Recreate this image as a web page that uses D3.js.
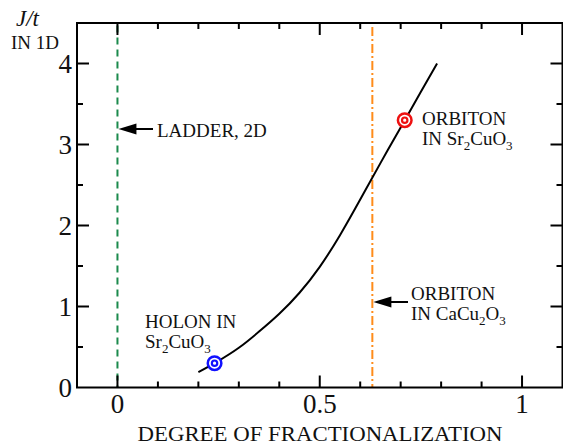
<!DOCTYPE html>
<html><head><meta charset="utf-8">
<script src="https://cdn.jsdelivr.net/npm/d3@7"></script>
<style>
html,body{margin:0;padding:0;background:#fff;}
</style></head>
<body><svg id="c" width="563" height="445"></svg>
<script>
// ---- data ----
const curveX = [0.20, 0.25, 0.30, 0.35, 0.40, 0.45, 0.50, 0.55, 0.60, 0.65, 0.70, 0.75, 0.79];
const curveY = [0.19, 0.33, 0.49, 0.69, 0.91, 1.17, 1.49, 1.88, 2.32, 2.77, 3.21, 3.65, 4.00];
const xTicks = [0, 0.5, 1];
const xTickLabels = ["0", "0.5", "1"];
const yTicks = [0, 1, 2, 3, 4];
const yTickLabels = ["0", "1", "2", "3", "4"];
const ladderX = 0;          // LADDER, 2D
const caCuX = 0.63;         // ORBITON IN CaCu2O3
const holon = {x: 0.24, y: 0.30};
const orbiton = {x: 0.71, y: 3.30};

const FONT = "'Liberation Serif', Tinos, 'Times New Roman', Times, 'Nimbus Roman', 'Nimbus Roman No9 L', FreeSerif, 'Noto Serif', 'DejaVu Serif', serif";

// ---- layout ----
const svg = d3.select("#c");
const L = 77, T = 23, R = 562.5, B = 387.5;
const x = d3.scaleLinear().domain([-0.1, 1.1]).range([L, R]);
const y = d3.scaleLinear().domain([0, 4.5]).range([B, T]);

function txt(xx, yy, size) {
  return svg.append("text").attr("x", xx).attr("y", yy)
    .style("font-family", FONT).attr("font-size", size).attr("fill", "#111");
}

// vertical reference lines
svg.append("line").attr("x1", x(ladderX)).attr("x2", x(ladderX))
  .attr("y1", y(4.47)).attr("y2", B)
  .attr("stroke", "#1b8a4c").attr("stroke-width", 2).attr("stroke-dasharray", "7,5");
svg.append("line").attr("x1", x(caCuX)).attr("x2", x(caCuX))
  .attr("y1", y(4.45)).attr("y2", B)
  .attr("stroke", "#ff8c1a").attr("stroke-width", 2).attr("stroke-dasharray", "9,3,2,3");

// curve
const line = d3.line().x(d => x(d[0])).y(d => y(d[1])).curve(d3.curveNatural);
svg.append("path").datum(curveX.map((v, i) => [v, curveY[i]]))
  .attr("d", line).attr("fill", "none").attr("stroke", "#000").attr("stroke-width", 2);

// markers
function target(p, col) {
  const g = svg.append("g").attr("transform", `translate(${x(p.x)},${y(p.y)})`);
  g.append("circle").attr("r", 6.8).attr("fill", "#fff").attr("stroke", col).attr("stroke-width", 2.5);
  g.append("circle").attr("r", 2.7).attr("fill", "none").attr("stroke", col).attr("stroke-width", 2.2);
}
target(holon, "#1010ff");
target(orbiton, "#ee1111");

// ticks inward on all sides
const major = 12, minor = 6;
const xt = d3.range(-0.1, 1.1001, 0.1).map(v => +v.toFixed(2)).filter(v => v > -0.1 && v < 1.1);
const yt = d3.range(0, 4.5001, 0.5).map(v => +v.toFixed(2)).filter(v => v > 0 && v < 4.5);
const isMajX = v => xTicks.some(t => Math.abs(t - v) < 1e-6);
const isMajY = v => yTicks.some(t => Math.abs(t - v) < 1e-6);
const tk = svg.append("g").attr("stroke", "#000").attr("stroke-width", 2);
xt.forEach(v => {
  const len = isMajX(v) ? major : minor;
  tk.append("line").attr("x1", x(v)).attr("x2", x(v)).attr("y1", B).attr("y2", B - len);
  tk.append("line").attr("x1", x(v)).attr("x2", x(v)).attr("y1", T).attr("y2", T + len);
});
yt.forEach(v => {
  const len = isMajY(v) ? major : minor;
  tk.append("line").attr("y1", y(v)).attr("y2", y(v)).attr("x1", L).attr("x2", L + len);
  tk.append("line").attr("y1", y(v)).attr("y2", y(v)).attr("x1", R).attr("x2", R - len);
});
svg.append("rect").attr("x", L).attr("y", T).attr("width", R - L).attr("height", B - T)
  .attr("fill", "none").attr("stroke", "#000").attr("stroke-width", 2);

// tick labels
xTicks.forEach((v, i) => txt(x(v), 413, 27).attr("text-anchor", "middle").text(xTickLabels[i]));
yTicks.forEach((v, i) => txt(72, y(v) + 9.5, 27).attr("text-anchor", "end").text(yTickLabels[i]));

// axis titles
txt(320, 441, 21).attr("text-anchor", "middle")
  .attr("textLength", 365).attr("lengthAdjust", "spacingAndGlyphs")
  .text("DEGREE OF FRACTIONALIZATION");
txt(16, 26, 23).attr("font-style", "italic").text("J/t");
txt(11, 49, 19).text("IN 1D");

// annotations
function label(lines, xx, yy) {
  lines.forEach((parts, i) => {
    const el = txt(xx, yy + i * 19.5, 19);
    let shifted = false;
    parts.forEach(p => {
      if (typeof p === "string") {
        const s = el.append("tspan").text(p);
        if (shifted) { s.attr("dy", -5); shifted = false; }
      } else {
        el.append("tspan").attr("font-size", 13).attr("dy", 5).text(p.sub);
        shifted = true;
      }
    });
  });
}
function arrow(x0, x1, yy) {
  svg.append("line").attr("x1", x0).attr("x2", x1 + 16).attr("y1", yy).attr("y2", yy)
    .attr("stroke", "#000").attr("stroke-width", 2);
  svg.append("path").attr("d", `M${x1},${yy}L${x1 + 18},${yy - 5.5}L${x1 + 18},${yy + 5.5}Z`).attr("fill", "#000");
}
arrow(153, x(ladderX) + 1, 129);
label([["LADDER, 2D"]], 157, 137);
arrow(408, x(caCuX) + 1, 302);
label([["ORBITON"], ["IN CaCu", {sub: "2"}, "O", {sub: "3"}]], 411, 300);
label([["ORBITON"], ["IN Sr", {sub: "2"}, "CuO", {sub: "3"}]], 422, 125);
label([["HOLON IN"], ["Sr", {sub: "2"}, "CuO", {sub: "3"}]], 145, 328);
</script></body></html>
